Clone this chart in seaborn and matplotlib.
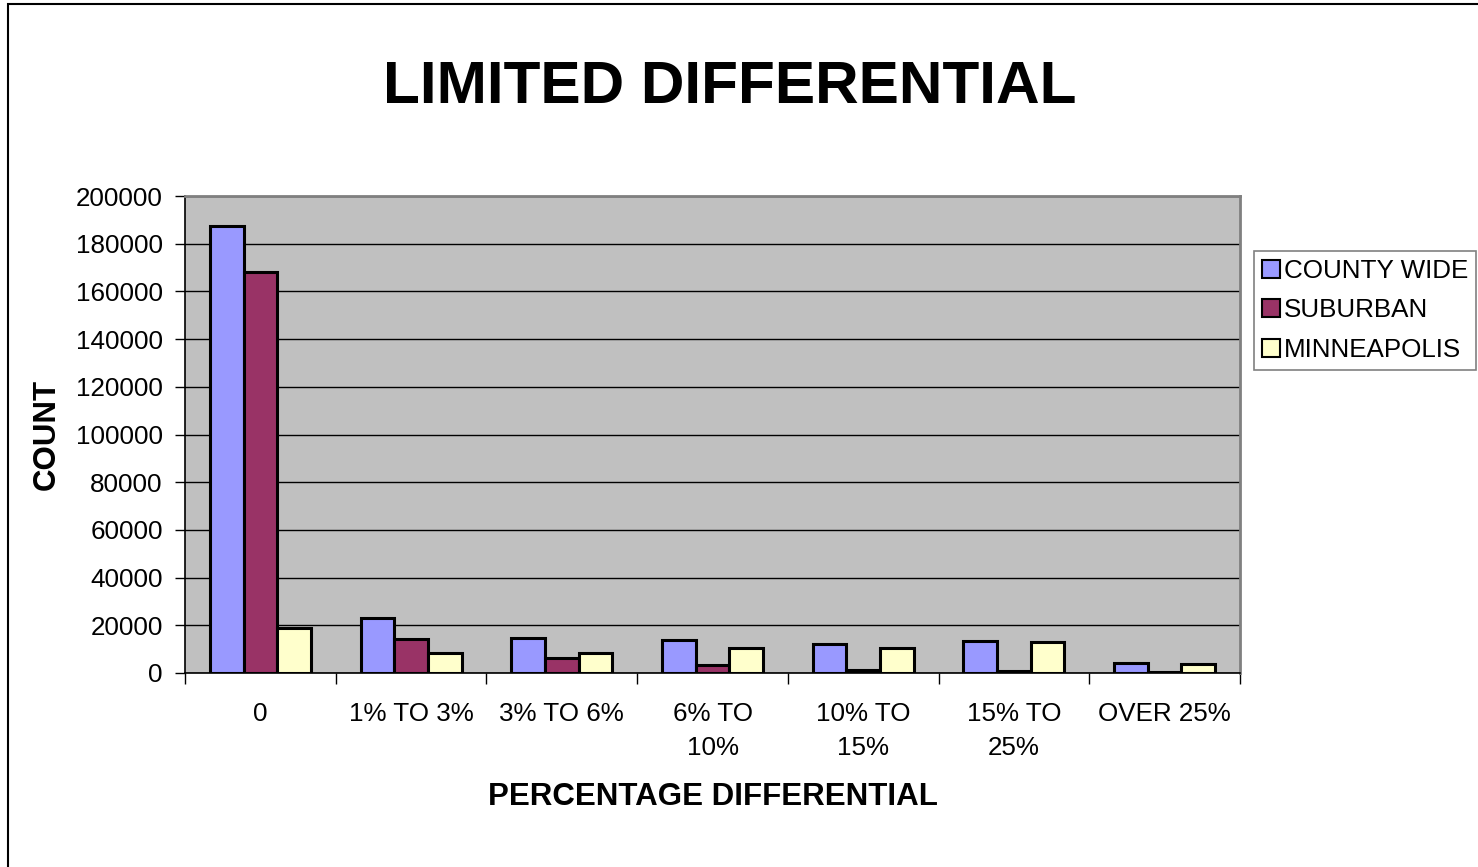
import matplotlib
matplotlib.use("Agg")
import matplotlib.pyplot as plt
import matplotlib.patches as mpatches
import seaborn as sns
import pandas as pd
import numpy as np

categories = ["0", "1% TO 3%", "3% TO 6%", "6% TO\n10%", "10% TO\n15%", "15% TO\n25%", "OVER 25%"]
county_wide = [187500, 22900, 14800, 13800, 12000, 13500, 4100]
suburban = [168300, 14100, 6200, 3400, 1300, 700, 300]
minneapolis = [19000, 8500, 8500, 10300, 10300, 13100, 3900]
series_names = ["COUNTY WIDE", "SUBURBAN", "MINNEAPOLIS"]
colors = ["#9999FF", "#993366", "#FFFFCC"]

df = pd.DataFrame({
    "category": categories * 3,
    "series": [series_names[0]] * 7 + [series_names[1]] * 7 + [series_names[2]] * 7,
    "count": county_wide + suburban + minneapolis,
})

sns.set_theme(style="white")
plt.rcParams["font.family"] = ["Liberation Sans", "DejaVu Sans"]
plt.rcParams.update({"text.color": "black", "axes.labelcolor": "black",
                     "xtick.color": "black", "ytick.color": "black"})

fig = plt.figure(figsize=(14.78, 8.67), dpi=100)
ax = fig.add_axes([185 / 1478, 1 - 673 / 867, (1240 - 185) / 1478, (673 - 196) / 867])
ax.set_facecolor("#C0C0C0")

sns.barplot(data=df, x="category", y="count", hue="series", order=categories,
            hue_order=series_names, palette=colors, width=0.67, gap=0,
            edgecolor="black", linewidth=2.2, saturation=1, ax=ax, legend=True,
            zorder=3)

ax.set_ylim(0, 200000)
ax.set_xlim(-0.5, 6.5)
ax.set_yticks(np.arange(0, 200001, 20000))
ax.set_yticklabels([str(v) for v in range(0, 200001, 20000)], fontsize=18.7)
ax.yaxis.grid(True, color="black", linewidth=1.0, zorder=1)
ax.set_axisbelow(True)
ax.tick_params(axis="y", length=7, width=1, color="black", left=True, pad=9)

ax.set_xticks(range(len(categories)))
ax.set_xticklabels(categories, fontsize=18.7, linespacing=1.5, va="top")
ax.tick_params(axis="x", which="major", length=0, pad=21)
ax.set_xticks(np.arange(-0.5, 7, 1), minor=True)
ax.tick_params(axis="x", which="minor", length=8, width=1, color="black", bottom=True)

for side in ["left", "bottom"]:
    ax.spines[side].set_color("black")
    ax.spines[side].set_linewidth(1.2)
for side in ["top", "right"]:
    ax.spines[side].set_color("#808080")
    ax.spines[side].set_linewidth(2)

ax.set_xlabel("PERCENTAGE DIFFERENTIAL", fontsize=22.5, fontweight="bold", labelpad=16)
ax.set_ylabel("COUNT", fontsize=22.5, fontweight="bold", labelpad=10)

fig.suptitle("LIMITED DIFFERENTIAL", fontsize=43.5, fontweight="bold", x=730 / 1478, y=1 - 60 / 867, va="top")

handles, labels = ax.get_legend_handles_labels()
ax.legend(handles, labels, loc="upper left", bbox_to_anchor=(1254 / 1478, 1 - 251 / 867),
          bbox_transform=fig.transFigure, fontsize=18.7, frameon=True, fancybox=False,
          edgecolor="#808080", framealpha=1, handlelength=0.7, handleheight=0.7,
          handletextpad=0.15, labelspacing=0.6, borderpad=0.3, borderaxespad=0)
leg = ax.get_legend()
leg.get_frame().set_linewidth(1.2)
for h in leg.legend_handles:
    h.set_edgecolor("black")
    h.set_linewidth(1.5)

# chart-area border
fig.patches.append(mpatches.Rectangle((8 / 1478, -0.01), 1.1, 1 - 4 / 867 + 0.01,
                                      transform=fig.transFigure, fill=False,
                                      edgecolor="black", linewidth=1.5))

fig.savefig("out.png", dpi=100)
